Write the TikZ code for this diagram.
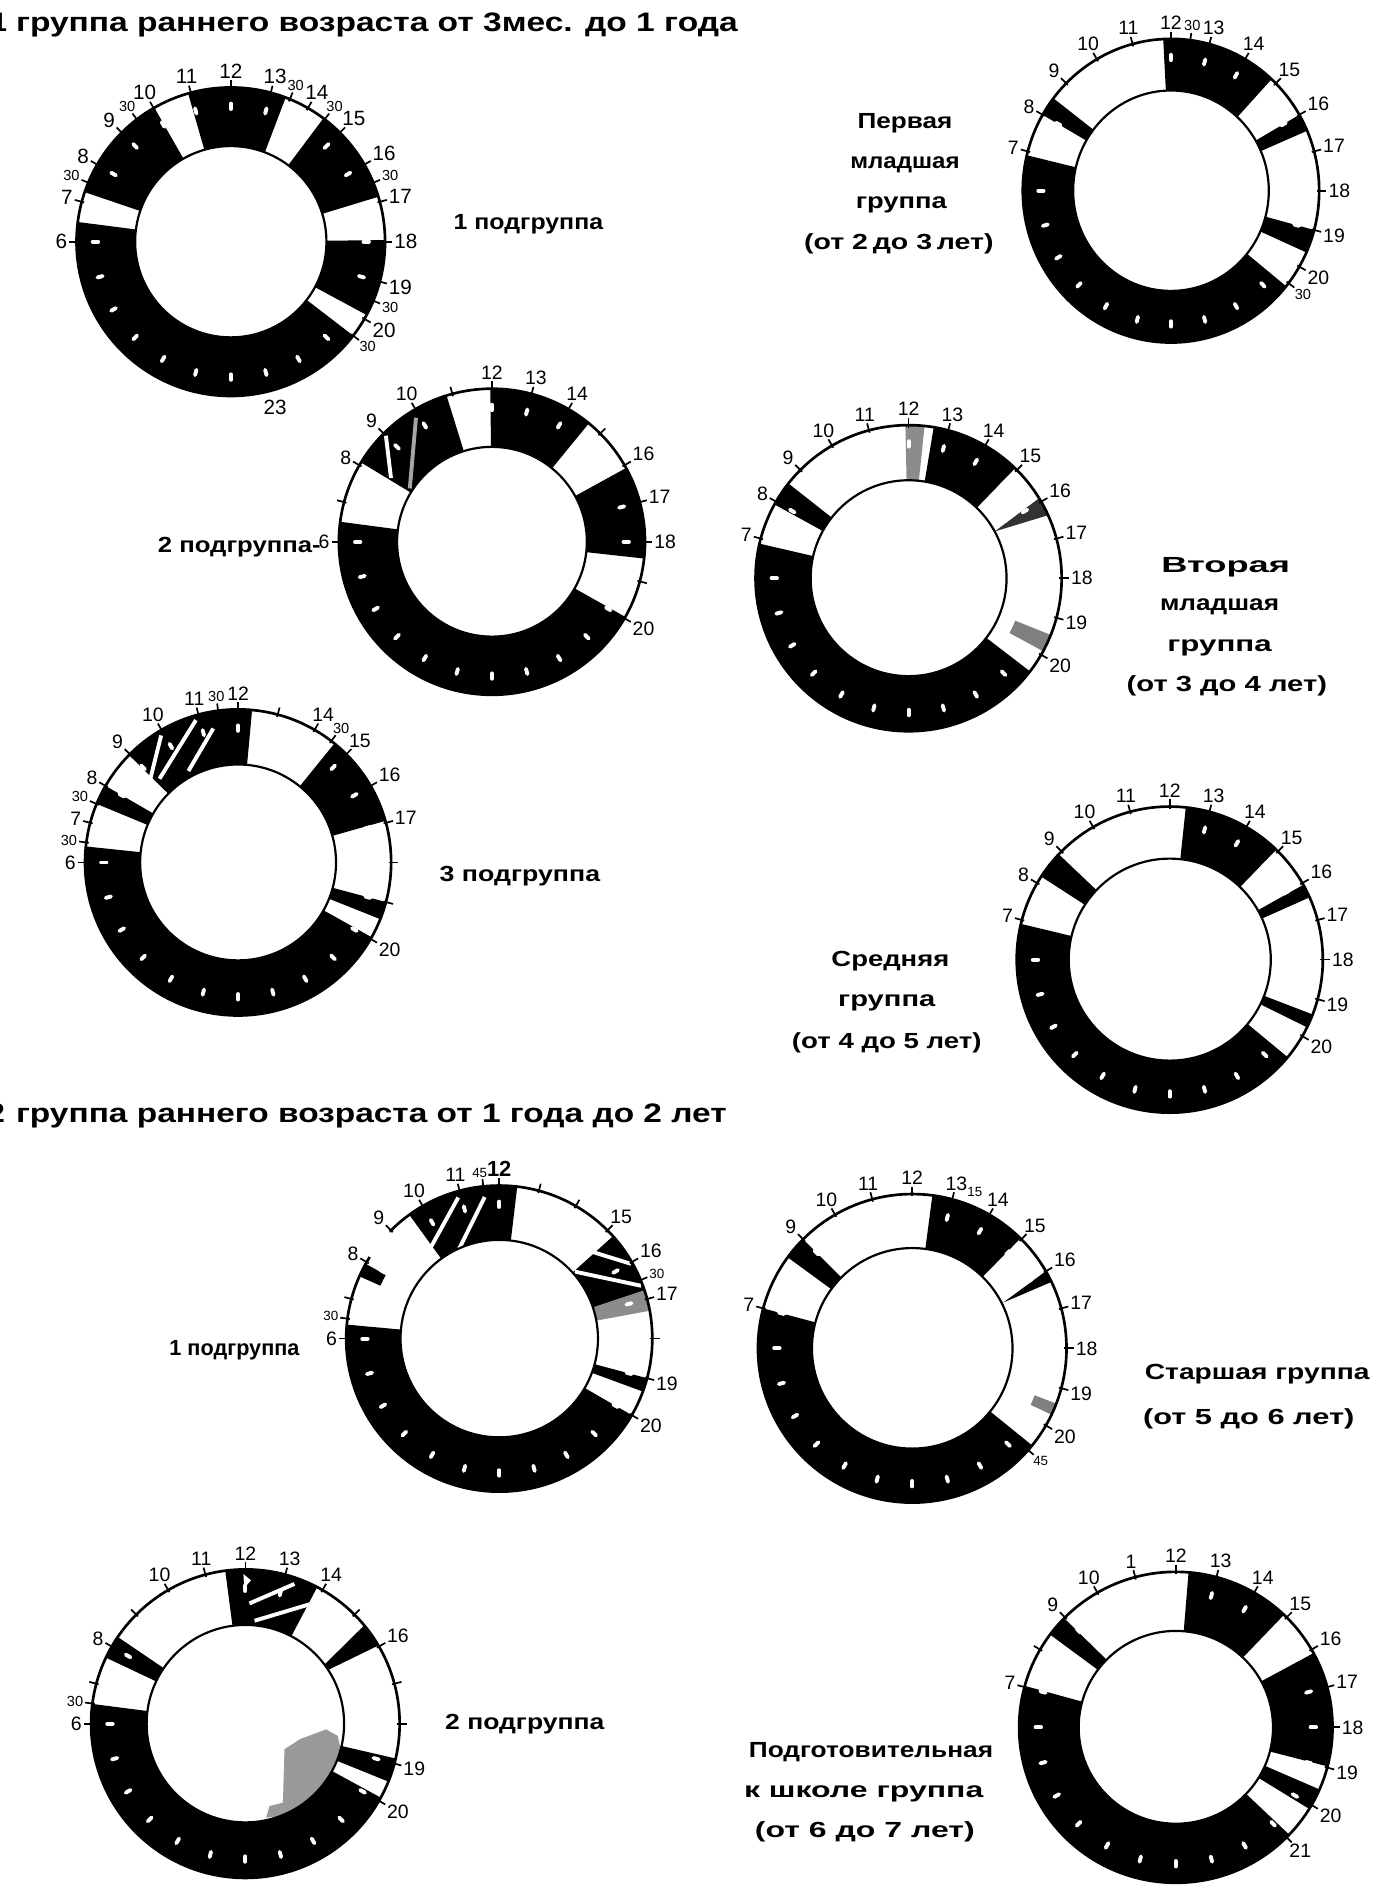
\documentclass[tikz,border=0pt]{standalone}
\usepackage{fontspec}
\setmainfont{Liberation Sans}
\usepackage{graphicx}
\newcommand\RingSet[5]{\def\cx{#1}\def\cy{#2}\def\Rx{#3}\def\Ry{#4}\def\rr{#5}\pgfmathsetmacro\rx{#3*#5}\pgfmathsetmacro\ry{#4*#5}}
\newcommand\PC[3]{\coordinate (#1) at ({\cx+(#3)*\Rx*cos(270-15*(#2))},{-\cy+(#3)*\Ry*sin(270-15*(#2))});}
\newcommand\SegR[5][black]{%
 \pgfmathsetmacro\tA{270-15*(#2)}\pgfmathsetmacro\tB{270-15*(#3)}%
 \pgfmathsetmacro\ax{(#4)*\Rx}\pgfmathsetmacro\ay{(#4)*\Ry}\pgfmathsetmacro\bx{(#5)*\Rx}\pgfmathsetmacro\by{(#5)*\Ry}%
 \PC{sa}{#2}{#5}\PC{sb}{#3}{#4}%
 \fill[#1] (sa) arc[start angle=\tA,end angle=\tB,x radius=\bx pt,y radius=\by pt] -- (sb) arc[start angle=\tB,end angle=\tA,x radius=\ax pt,y radius=\ay pt] -- cycle;}
\newcommand\Seg[3][black]{\SegR[#1]{#2}{#3}{\rr}{1}}
\newcommand\Stripe[5][white]{\PC{s1}{#2}{#3}\PC{s2}{#4}{#5}\draw[#1,line width=3.2pt] (s1) -- (s2);}
\newcommand\Tri[7][black]{\PC{q1}{#2}{#3}\PC{q2}{#4}{#5}\PC{q3}{#6}{#7}\fill[#1] (q1) -- (q2) -- (q3) -- cycle;}
\newcommand\Quad[9][black]{\PC{q1}{#2}{#3}\PC{q2}{#4}{#5}\PC{q3}{#6}{#7}\PC{q4}{#8}{#9}\fill[#1] (q1) -- (q2) -- (q3) -- (q4) -- cycle;}
\newcommand\Frame{%
 \draw[line width=2.2pt] (\cx,-\cy) ellipse[x radius=\Rx pt,y radius=\Ry pt];
 \draw[line width=1.8pt] (\cx,-\cy) ellipse[x radius=\rx pt,y radius=\ry pt];}
\newcommand\Dashes{\foreach \h in {0,...,23}{\pgfmathsetmacro\t{270-15*\h}%
 \draw[white,line width=3.2pt,line cap=round] ({\cx+0.86*\Rx*cos(\t)},{-\cy+0.86*\Ry*sin(\t)}) -- ({\cx+0.895*\Rx*cos(\t)},{-\cy+0.895*\Ry*sin(\t)});}}
\newcommand\Ticks[1]{\foreach \h in {#1}{\pgfmathsetmacro\t{270-15*\h}%
 \draw[line width=1.4pt] ({\cx+(\Rx-2)*cos(\t)},{-\cy+(\Ry-2)*sin(\t)}) -- ({\cx+(\Rx+6)*cos(\t)},{-\cy+(\Ry+6)*sin(\t)});}}
\newcommand\Labs[2][16]{\foreach \h/\s in {#2}{\pgfmathsetmacro\t{270-15*\h}\pgfmathtruncatemacro\an{mod(\t+900,360)}%
 \node[font=\fontsize{#1}{#1}\selectfont,inner sep=0.5pt,anchor=\an] at ({\cx+(\Rx+7)*cos(\t)},{-\cy+(\Ry+7)*sin(\t)}) {\s};}}
\tikzset{grp/.style={font=\bfseries\fontsize{18}{18}\selectfont,inner sep=0pt,anchor=base},
 ttl/.style={font=\bfseries\fontsize{22}{22}\selectfont,inner sep=0pt}}
\begin{document}
\begin{tikzpicture}[x=1pt,y=1pt]
\useasboundingbox[fill=white] (0,0) rectangle (1140,-1565);
% ---------- titles
\node[ttl,anchor=base east] (t1d) at (6,-26) {1};
\node[ttl,anchor=base west] (t1) at (13,-26) {\resizebox{594pt}{\height}{группа раннего возраста от 3мес. до 1 года}};
\node[ttl,anchor=base east] (t2d) at (4,-924) {2};
\node[ttl,anchor=base west] (t2) at (13,-924) {\resizebox{585pt}{\height}{группа раннего возраста от 1 года до 2 лет}};
% ---------- group labels
\node[grp] (g1) at (435,-189) {\resizebox{123pt}{\height}{1 подгруппа}};
\node[grp] (g2a) at (745,-106) {\resizebox{78pt}{\height}{Первая}};
\node[grp] (g2b) at (745,-139) {\resizebox{90pt}{\height}{младшая}};
\node[grp] (g2c) at (742,-172) {\resizebox{75pt}{\height}{группа}};
\node[grp] (g2d) at (740,-205) {\resizebox{156pt}{\height}{(от 2\,до 3\,лет)}};
\node[grp] (g3) at (197,-455) {\resizebox{134pt}{\height}{2 подгруппа-}};
\node[grp] (g4a) at (1009,-471) {\resizebox{106pt}{\height}{Вторая}};
\node[grp] (g4b) at (1004,-503) {\resizebox{98pt}{\height}{младшая}};
\node[grp] (g4c) at (1004,-536) {\resizebox{86pt}{\height}{группа}};
\node[grp] (g4d) at (1010,-569) {\resizebox{165pt}{\height}{(от 3 до 4 лет)}};
\node[grp] (g5) at (428,-726) {\resizebox{132pt}{\height}{3 подгруппа}};
\node[grp] (g6a) at (733,-796) {\resizebox{97pt}{\height}{Средняя}};
\node[grp] (g6b) at (730,-829) {\resizebox{80pt}{\height}{группа}};
\node[grp] (g6c) at (730,-863) {\resizebox{156pt}{\height}{(от 4 до 5 лет)}};
\node[grp] (g7) at (193,-1116) {\resizebox{107pt}{\height}{1 подгруппа}};
\node[grp] (g8a) at (1035,-1136) {\resizebox{185pt}{\height}{Старшая группа}};
\node[grp] (g8b) at (1028,-1173) {\resizebox{174pt}{\height}{(от 5 до 6 лет)}};
\node[grp] (g9) at (432,-1424) {\resizebox{131pt}{\height}{2 подгруппа}};
\node[grp] (g10a) at (717,-1447) {\resizebox{201pt}{\height}{Подготовительная}};
\node[grp] (g10b) at (711,-1480) {\resizebox{197pt}{\height}{к школе группа}};
\node[grp] (g10c) at (712,-1513) {\resizebox{181pt}{\height}{(от 6 до 7 лет)}};
% ---------- ring 1
\RingSet{190}{199}{127}{127}{0.62}
\Seg{7.25}{10.02}\Seg{10.93}{13.39}\Seg{14.46}{16.87}\Seg{17.96}{19.89}\Seg{20.5}{30.49}
\Dashes\Frame
\Ticks{6,7,7.5,8,9,9.5,10,11,12,13,13.5,14,14.5,15,16,16.5,17,18,19,19.5,20,20.5}
\Labs[17]{6/6,7/7,8/8,9/9,10/10,11/11,12/12,13/13,14/14,15/15,16/16,17/17,18/18,19/19,20/20,23/23}
\Labs[12]{7.5/30,9.5/30,13.5/30,14.5/30,16.5/30,19.5/30,20.5/30}
% ---------- ring 2
\RingSet{964}{157}{122}{125}{0.66}
\Seg{8}{8.5}\Seg{11.8}{14.85}\Seg{16}{16.45}\Seg{19}{19.6}\Seg{20.6}{30.9}
\Dashes\Frame
\Ticks{7,8,9,10,11,12,12.5,13,14,15,16,17,18,19,20,20.5}
\Labs{7/7,8/8,9/9,10/10,11/11,12/12,13/13,14/14,15/15,16/16,17/17,18/18,19/19,20/20}
\Labs[12]{12.5/30,20.5/30}
% ---------- ring 3
\RingSet{405}{446}{126}{126}{0.62}
\Seg{8.08}{10.85}\Seg{11.96}{14.62}\Seg{16.08}{18.42}\Seg{19.96}{30.5}
\Stripe{8.15}{0.78}{9.0}{0.98}
\Stripe[black!35]{8.2}{0.64}{9.9}{0.95}
\Dashes\Frame
\Ticks{6,7,8,9,10,11,12,13,14,15,16,17,18,19,20}
\Labs{6/6,8/8,9/9,10/10,12/12,13/13,14/14,16/16,17/17,18/18,20/20}
% ---------- ring 4
\RingSet{748}{476}{126}{126}{0.64}
\Seg{7.92}{8.55}\Seg[black!45]{11.92}{12.4}\Seg{12.63}{14.94}
\Tri[black!80]{15.9}{1}{16.38}{1}{16.1}{0.64}
\SegR[black!50]{19.45}{19.9}{0.75}{1}\Seg{20.5}{30.87}
\Dashes\Frame
\Ticks{7,8,9,10,11,12,13,14,15,16,17,18,19,20}
\Labs{7/7,8/8,9/9,10/10,11/11,12/12,13/13,14/14,15/15,16/16,17/17,18/18,19/19,20/20}
% ---------- ring 5
\RingSet{196}{710}{126}{126}{0.64}
\Seg{7.5}{8.0}\Seg{8.97}{12.35}\Seg{14.6}{16.95}\Seg{19.0}{19.45}\Seg{19.95}{30.4}
\Stripe{8.89}{0.79}{9.92}{0.97}\Stripe{9.12}{0.75}{10.9}{0.97}\Stripe{10.1}{0.68}{11.3}{0.89}
\Dashes\Frame
\Ticks{6,6.5,7,7.5,8,9,10,11,11.5,12,13,14,14.5,15,16,17,18,19,20}
\Labs{6/6,7/7,8/8,9/9,10/10,11/11,12/12,14/14,15/15,16/16,17/17,20/20}
\Labs[12]{6.5/30,7.5/30,11.5/30,14.5/30}
% ---------- ring 6
\RingSet{963}{790}{126}{126}{0.66}
\Seg{8.19}{8.9}\Seg{12.4}{14.94}\Seg{16.05}{16.4}\Seg{19.4}{19.75}\Seg{20.64}{30.9}
\Dashes\Frame
\Ticks{7,8,9,10,11,12,13,14,15,16,17,18,19,20}
\Labs{7/7,8/8,9/9,10/10,11/11,12/12,13/13,14/14,15/15,16/16,17/17,18/18,19/19,20/20}
% ---------- ring 7
\RingSet{411}{1102}{126}{126}{0.645}
\Seg{9.6}{12.45}\Seg{15.2}{16.8}\Seg[black!45]{16.77}{17.3}\Seg{19.0}{19.35}\Seg{20.0}{30.35}
\SegR{7.6}{7.95}{0.85}{1}
\Stripe{9.48}{0.74}{10.92}{0.96}\Stripe{10.3}{0.63}{11.61}{0.93}
\Stripe{15.04}{0.82}{16.03}{0.99}\Stripe{15.23}{0.66}{16.64}{0.99}
\Dashes\Frame
\pgfmathsetmacro\gA{270-15*8.15}\pgfmathsetmacro\gB{270-15*8.95}
\PC{gp}{8.15}{1}
\draw[white,line width=5pt] (gp) arc[start angle=\gA,end angle=\gB,x radius=\Rx pt,y radius=\Ry pt];
\Ticks{6,6.5,7,8,9,10,11,11.6,12,13,14,15,16,16.5,17,18,19,20}
\Labs{6/6,8/8,9/9,10/10,11/11,15/15,16/16,17/17,19/19,20/20}
\Labs[18]{12/\textbf{12}}
\Labs[11]{6.5/30,11.55/45,16.5/30}
% ---------- ring 8
\RingSet{751}{1110}{127}{127}{0.65}
\Seg{8.41}{9.0}\Seg{12.5}{14.97}\Tri{16.0}{1}{16.3}{1}{16.22}{0.66}
\SegR[black!50]{19.4}{19.7}{0.85}{1}\Seg{20.6}{31}
\Dashes\Frame
\Ticks{7,9,10,11,12,13,14,15,16,17,18,19,20,20.75}
\Labs{7/7,9/9,10/10,11/11,12/12,13/13,14/14,15/15,16/16,17/17,18/18,19/19,20/20}
\Labs[11]{13.45/15,20.75/45}
% ---------- ring 9
\RingSet{202}{1419}{127}{127}{0.64}
\Seg{7.69}{8.28}\Seg{11.5}{13.85}\Quad{15.36}{1}{15.97}{1}{15.8}{0.64}{15.55}{0.64}
\Seg{18.87}{19.47}\Seg{19.91}{30.49}
\Stripe{12.13}{0.78}{13.29}{0.96}\Stripe{12.34}{0.67}{13.89}{0.88}
\Tri[white]{11.95}{0.97}{12.15}{0.93}{11.97}{0.88}
\begin{scope}
\clip (\cx,-\cy) ellipse[x radius=\rx pt,y radius=\ry pt];
\fill[black!40,shift={(\cx,-\cy)}] (44.6,-12.9) -- (66.5,-4.7) -- (76.1,-10.1) -- (78.9,-23.9) -- (74.7,-45.8) -- (58.3,-65.0) -- (30.9,-76.0) -- (17.1,-77.4) -- (19.9,-67.8) -- (30.9,-65.0) -- (32.2,-21.1) -- cycle;
\end{scope}
\Dashes\Frame
\Ticks{6,6.5,7,8,9,10,11,12,13,14,15,16,17,18,19,20}
\Labs{6/6,8/8,10/10,11/11,12/12,13/13,14/14,16/16,19/19,20/20}
\Labs[12]{6.5/30}
% ---------- ring 10
\RingSet{968}{1422}{129}{128}{0.62}
\Seg{8.44}{8.97}\Seg{12.31}{14.91}\Seg{16.1}{18.97}\Seg{19.57}{20.11}\Seg{20.91}{31.03}
\Dashes\Frame
\Ticks{7,8,9,10,11,12,13,14,15,16,17,18,19,20,21}
\Labs{7/7,9/9,10/10,11/1,12/12,13/13,14/14,15/15,16/16,17/17,18/18,19/19,20/20,21/21}
\end{tikzpicture}
\end{document}
